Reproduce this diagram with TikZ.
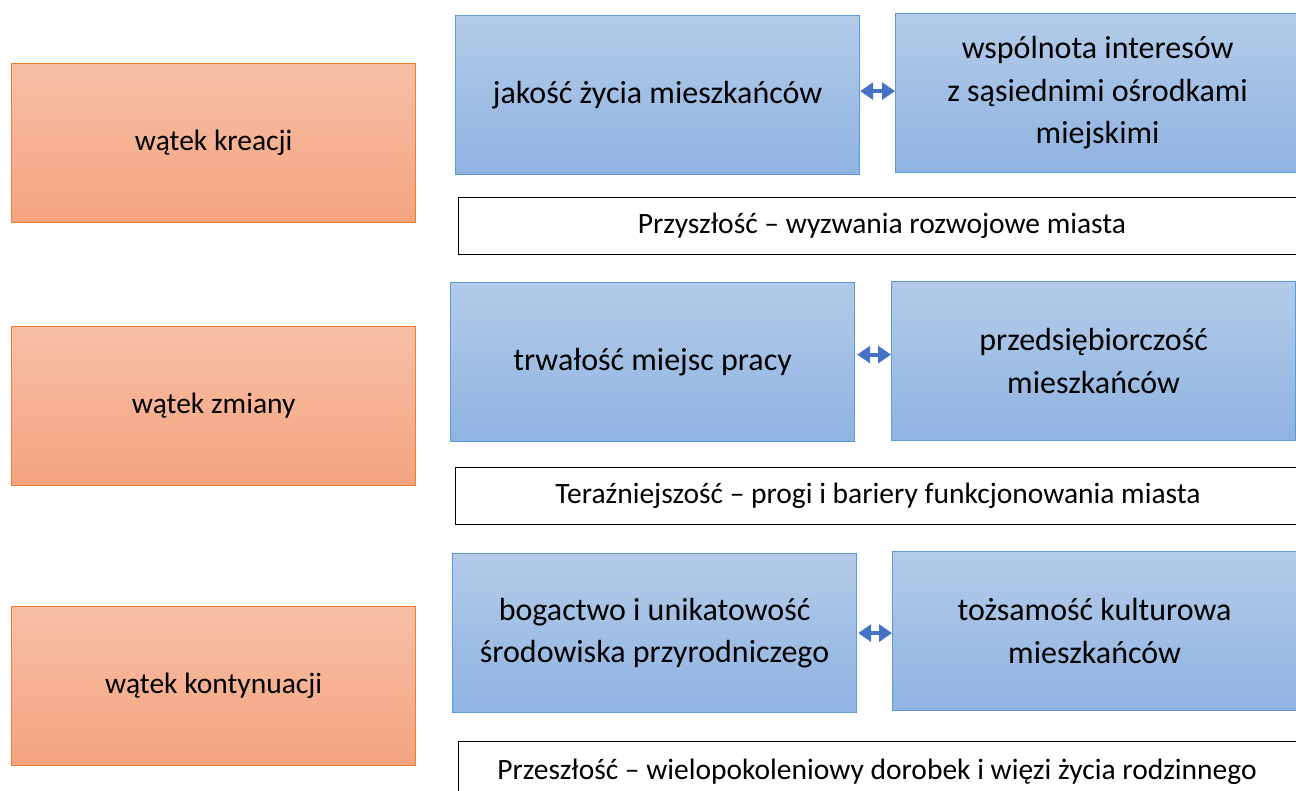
\documentclass[tikz,border=0pt]{standalone}
\usepackage{fontspec}
\setmainfont{Carlito}
\usetikzlibrary{arrows.meta}
\definecolor{orTop}{HTML}{F7BFA6}
\definecolor{orBot}{HTML}{F4A47F}
\definecolor{orLine}{HTML}{ED7D31}
\definecolor{blTop}{HTML}{B3CBE9}
\definecolor{blBot}{HTML}{8FB3E2}
\definecolor{blLine}{HTML}{5B9BD5}
\definecolor{arr}{HTML}{4472C4}
\tikzset{
  boxbase/.style={rectangle, anchor=north west, minimum width=404pt, minimum height=159pt, inner sep=0pt, align=center, text=black},
  orangebox/.style={boxbase, draw=orLine, line width=1.2pt, top color=orTop, bottom color=orBot, font=\fontsize{29.5}{42}\selectfont},
  bluebox/.style={boxbase, draw=blLine, line width=1.2pt, top color=blTop, bottom color=blBot, font=\fontsize{32}{42.5}\selectfont},
  whitebox/.style={rectangle, anchor=north west, draw=black, line width=1.2pt, fill=white, minimum width=850pt, minimum height=57pt, inner sep=0pt},
  period/.style={font=\fontsize{29.5}{42}\selectfont, inner sep=0pt},
  dbl/.style={draw=arr, line width=4pt, {Triangle[length=13pt,width=17pt]}-{Triangle[length=13pt,width=17pt]}}
}
\begin{document}
\begin{tikzpicture}[x=1pt,y=-1pt]
\useasboundingbox (0,0) rectangle (1296,791);
\clip (0,0) rectangle (1296,791);
% left orange boxes
\node[orangebox] (k1) at (11,63) {wątek kreacji};
\node[orangebox] (k2) at (11,326) {wątek zmiany};
\node[orangebox] (k3) at (11,606) {wątek kontynuacji};
% row 1
\node[bluebox] (a1) at (455,15) {jakość życia mieszkańców};
\node[bluebox] (b1) at (895,13) {wspólnota interesów\\z sąsiednimi ośrodkami\\miejskimi};
\node[whitebox] (w1) at (458,197) {};
\node[period] (t1) at (882,225.5) {Przyszłość – wyzwania rozwojowe miasta};
% row 2
\node[bluebox] (a2) at (450,282) {trwałość miejsc pracy};
\node[bluebox] (b2) at (891,281) {przedsiębiorczość\\mieszkańców};
\node[whitebox] (w2) at (455,467) {};
\node[period] (t2) at (878,495.5) {Teraźniejszość – progi i bariery funkcjonowania miasta};
% row 3
\node[bluebox] (a3) at (452,553) {bogactwo i unikatowość\\środowiska przyrodniczego};
\node[bluebox] (b3) at (892,551) {tożsamość kulturowa\\mieszkańców};
\node[whitebox, minimum height=80pt] (w3) at (458,741) {};
\node[period] (t3) at (877,772) {Przeszłość – wielopokoleniowy dorobek i więzi życia rodzinnego};
% arrows
\draw[dbl] ([yshift=4pt]a1.east) -- ([yshift=4pt]a1.east -| b1.west);
\draw[dbl] ([xshift=2pt,yshift=7.5pt]a2.east) -- ([yshift=7.5pt]a2.east -| b2.west);
\draw[dbl] ([xshift=1pt]a3.east) -- (a3.east -| b3.west);
\end{tikzpicture}
\end{document}
